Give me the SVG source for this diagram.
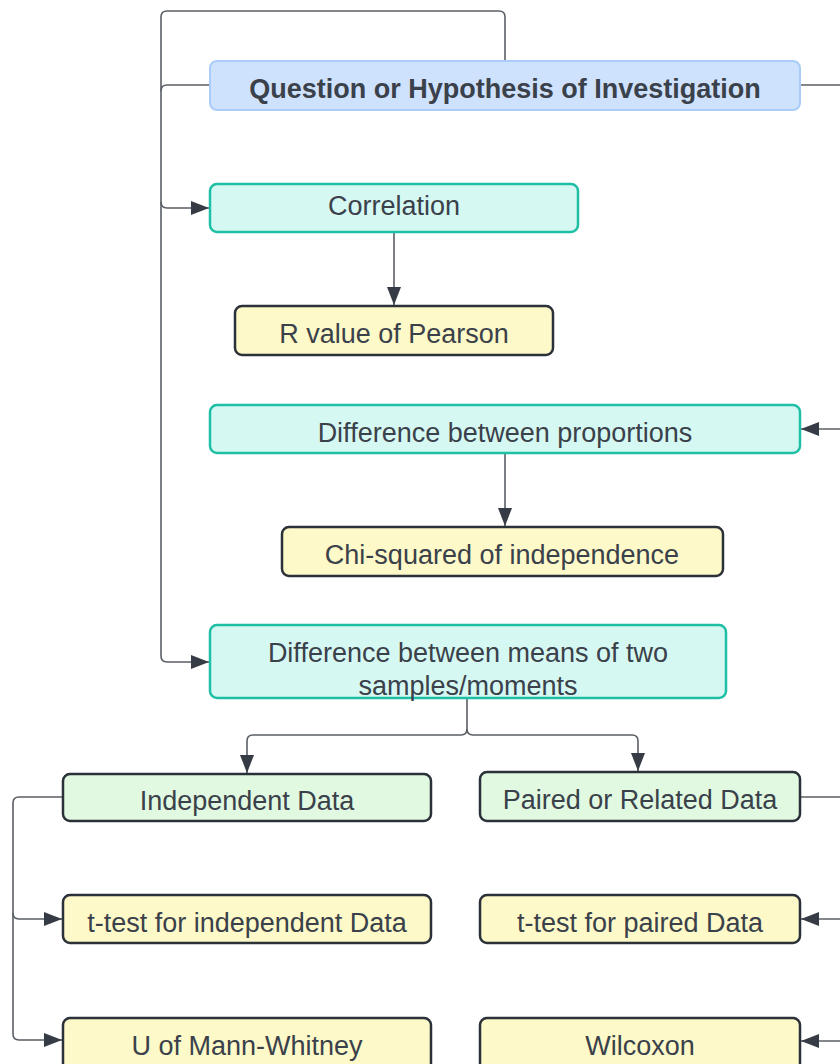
<svg xmlns="http://www.w3.org/2000/svg" width="840" height="1064" viewBox="0 0 840 1064">
<style>
.t{font-family:"Liberation Sans",Arial,sans-serif;font-size:27px;fill:#3a414a;text-anchor:middle}
.b{font-weight:bold}
.q{fill:#cfe2fd;stroke:#a9cdf7;stroke-width:2}
.c{fill:#d6f8f2;stroke:#1fbfa6;stroke-width:2.5}
.y{fill:#fdf9c8;stroke:#2b3138;stroke-width:2.5}
.g{fill:#e1f9e1;stroke:#2b3138;stroke-width:2.5}
.l{fill:none;stroke:#5a5f66;stroke-width:1.6}
.a{marker-end:url(#ar)}
</style>
<defs>
<marker id="ar" markerUnits="userSpaceOnUse" markerWidth="19" markerHeight="15" refX="18" refY="7" orient="auto">
<path d="M0,0 L18,7 L0,14 z" fill="#353c45"/>
</marker>
</defs>
<rect width="840" height="1064" fill="#ffffff"/>
<g id="connectors">
<path class="l" d="M505,61 V17 Q505,11 499,11 H167 Q161,11 161,17 V656"/>
<path class="l" d="M210,85 H167 Q161,85 161,91"/>
<path class="l a" d="M161,656 Q161,662 167,662 H209"/>
<path class="l a" d="M161,202 Q161,208 167,208 H209"/>
<path class="l" d="M800,85 H840"/>
<path class="l a" d="M840,429 H801"/>
<path class="l a" d="M394,232 V305"/>
<path class="l a" d="M505,453 V526"/>
<path class="l a" d="M467,698 V729 Q467,735 461,735 H253 Q247,735 247,741 V773"/>
<path class="l a" d="M467,729 Q467,735 473,735 H632 Q638,735 638,741 V771"/>
<path class="l a" d="M63,797 H19 Q13,797 13,803 V1034 Q13,1040 19,1040 H62"/>
<path class="l a" d="M13,913 Q13,919 19,919 H62"/>
<path class="l" d="M800,797 H840"/>
<path class="l a" d="M840,919 H801"/>
<path class="l a" d="M840,1041 H801"/>
</g>
<g id="question"><rect class="q" x="210" y="61" width="590" height="49" rx="7"/><text class="t b" x="505" y="98">Question or Hypothesis of Investigation</text></g>
<g id="correlation"><rect class="c" x="210" y="184" width="368" height="48" rx="7"/><text class="t" x="394" y="215">Correlation</text></g>
<g id="pearson"><rect class="y" x="235" y="306" width="318" height="49" rx="7"/><text class="t" x="394" y="343">R value of Pearson</text></g>
<g id="proportions"><rect class="c" x="210" y="405" width="590" height="48" rx="7"/><text class="t" x="505" y="442">Difference between proportions</text></g>
<g id="chi"><rect class="y" x="282" y="527" width="441" height="49" rx="7"/><text class="t" x="502" y="564">Chi-squared of independence</text></g>
<g id="means"><rect class="c" x="210" y="625" width="516" height="73" rx="7"/><text class="t" x="468" y="662">Difference between means of two</text><text class="t" x="468" y="695">samples/moments</text></g>
<g id="independent"><rect class="g" x="63" y="774" width="368" height="47" rx="7"/><text class="t" x="247" y="810">Independent Data</text></g>
<g id="paired"><rect class="g" x="480" y="772" width="320" height="49" rx="7"/><text class="t" x="640" y="809">Paired or Related Data</text></g>
<g id="ttest-ind"><rect class="y" x="63" y="895" width="368" height="48" rx="7"/><text class="t" x="247" y="932">t-test for independent Data</text></g>
<g id="ttest-paired"><rect class="y" x="480" y="895" width="320" height="48" rx="7"/><text class="t" x="640" y="932">t-test for paired Data</text></g>
<g id="mann"><rect class="y" x="63" y="1018" width="368" height="52" rx="7"/><text class="t" x="247" y="1055">U of Mann-Whitney</text></g>
<g id="wilcoxon"><rect class="y" x="480" y="1018" width="320" height="52" rx="7"/><text class="t" x="640" y="1055">Wilcoxon</text></g>
</svg>
